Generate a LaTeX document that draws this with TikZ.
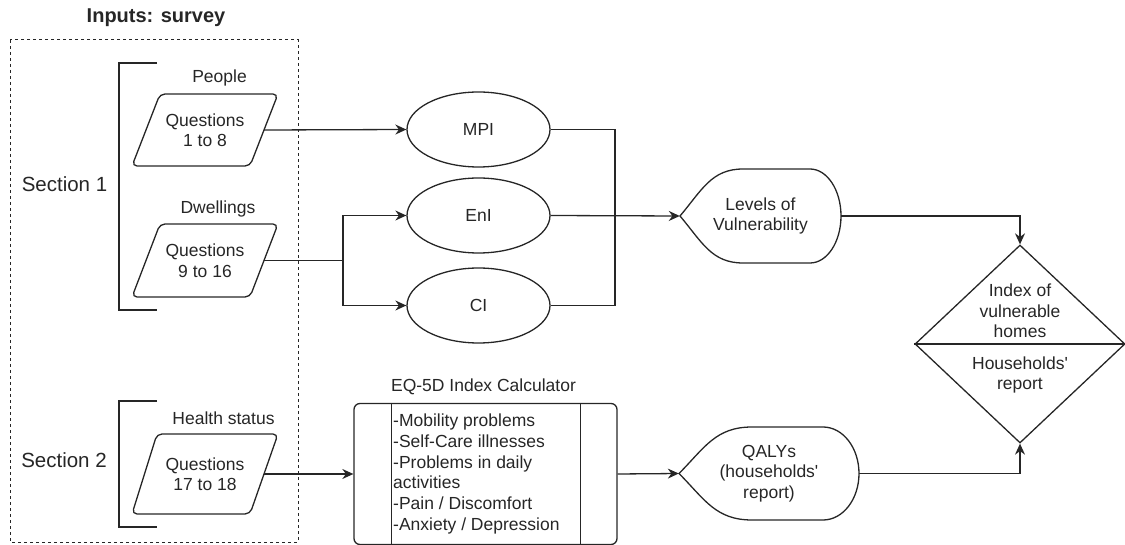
\documentclass[tikz,border=0pt]{standalone}
\usepackage{fontspec}
\setmainfont{Liberation Sans}[Ligatures=TeXOff]
\usetikzlibrary{shapes.geometric,arrows.meta,calc}
\begin{document}
\begin{tikzpicture}[x=1pt,y=-1pt,
  every node/.style={font=\fontsize{17.5}{20.5}\selectfont, inner sep=0pt, align=center, text=black!85},
  line/.style={line width=1.3pt, draw=black!85},
  arr/.style={line, -{Stealth[length=11pt,width=10pt]}},
  ell/.style={ellipse, draw, line, minimum width=143pt, minimum height=75pt},
  ptext/.style={minimum width=118pt},
  disp/.style={minimum height=94pt},
  seclabel/.style={font=\fontsize{20.5}{24}\selectfont},
  titlelabel/.style={font=\fontsize{20}{24}\selectfont\bfseries},
  dashbox/.style={line width=1pt, draw=black!85, dash pattern=on 3pt off 3pt},
]
\useasboundingbox (0,0) rectangle (1125,545);

% title and dashed frame
\node[titlelabel] (title) at (156,18) {Inputs: survey};
\draw[dashbox] (10,40) rectangle (298,542);

% brackets and section labels
\draw[line] (157,63) -- (119,63) -- (119,310) -- (157,310);
\draw[line] (157,401) -- (119,401) -- (119,527) -- (157,527);
\node[seclabel] (s1) at (64.5,184) {Section 1};
\node[seclabel] (s2) at (64,460) {Section 2};

% input labels
\node (lpeople) at (219.5,78) {People};
\node (ldwell) at (218,209) {Dwellings};
\node (lhealth) at (223.5,418) {Health status};

% parallelograms
\node[ptext, minimum height=72pt] (p1) at (205,130) {Questions\\1 to 8};
\node[ptext, minimum height=73pt] (p2) at (205,260.5) {Questions\\9 to 16};
\node[ptext, minimum height=80pt] (p3) at (205,474) {Questions\\17 to 18};
\begin{scope}[shift={(p1.center)}]
  \draw[line, rounded corners=5pt] (-45,-36) -- (73,-36) -- (45,36) -- (-73,36) -- cycle;
\end{scope}
\begin{scope}[shift={(p2.center)}]
  \draw[line, rounded corners=5pt] (-45,-36.5) -- (73,-36.5) -- (45,36.5) -- (-73,36.5) -- cycle;
\end{scope}
\begin{scope}[shift={(p3.center)}]
  \draw[line, rounded corners=5pt] (-48,-40) -- (73,-40) -- (45,40) -- (-73,40) -- cycle;
\end{scope}

% ellipses
\node[ell] (mpi) at (478.5,129.5) {MPI};
\node[ell] (eni) at (478.5,215.5) {EnI};
\node[ell] (ci) at (478.5,305.5) {CI};

% Levels of vulnerability (display shape)
\node[minimum width=161pt, minimum height=94pt] (lv) at (760.5,216) {Levels of\\Vulnerability};
\begin{scope}[shift={(lv.center)}]
  \draw[line] (-80.5,0) .. controls (-58.5,-26) and (-49,-47) .. (-17.5,-47)
    -- (49.5,-47) .. controls (66.6,-47) and (80.5,-26) .. (80.5,0)
    .. controls (80.5,26) and (66.6,47) .. (49.5,47)
    -- (-17.5,47) .. controls (-49,47) and (-58.5,26) .. (-80.5,0) -- cycle;
\end{scope}

% EQ-5D calculator
\node (eqt) at (483.5,387) {EQ-5D Index Calculator};
\node[draw, line, rounded corners=6pt, minimum width=263pt, minimum height=141pt] (eq) at (485.5,474) {};
\draw[line] ([xshift=38pt]eq.north west) -- ([xshift=38pt]eq.south west);
\draw[line] ([xshift=-37pt]eq.north east) -- ([xshift=-37pt]eq.south east);
\node[anchor=west, align=left, font=\fontsize{17.5}{20.8}\selectfont] (eqtxt) at (393,474)
  {-Mobility problems\\-Self-Care illnesses\\-Problems in daily\\activities\\-Pain / Discomfort\\-Anxiety / Depression};

% QALYs (display shape)
\node[minimum width=180pt, minimum height=93pt] (q) at (769,473.5) {QALYs\\(households'\\report)};
\begin{scope}[shift={(q.center)}]
  \draw[line] (-90,0) .. controls (-64.5,-25.6) and (-53.5,-46.5) .. (-17,-46.5)
    -- (54,-46.5) .. controls (73.9,-46.5) and (90,-25.7) .. (90,0)
    .. controls (90,25.7) and (73.9,46.5) .. (54,46.5)
    -- (-17,46.5) .. controls (-53.5,46.5) and (-64.5,25.6) .. (-90,0) -- cycle;
\end{scope}

% diamond
\node[diamond, draw, line, minimum width=210pt, minimum height=198pt] (d) at (1020,344) {};
\draw[line] (d.west) -- (d.east);
\node (dtop) at (1020,311) {Index of\\vulnerable\\homes};
\node (dbot) at (1020,375) {Households'\\report};

% connectors
\draw[arr] (p1.east) -- (mpi.west);
\coordinate (j1) at (343,260.5);
\draw[line] (p2.east) -- (j1);
\draw[arr] (j1) |- (eni.west);
\draw[arr] (j1) |- (ci.west);
\coordinate (j2) at (615,216);
\draw[line] (mpi.east) -| (j2) |- (ci.east);
\draw[arr] (eni.east) -- (lv.west);
\draw[arr] (lv.east) -| (d.north);
\draw[arr] (p3.east) -- (eq.west);
\draw[arr] (eq.east) -- (q.west);
\draw[arr] (q.east) -| (d.south);
\end{tikzpicture}
\end{document}
